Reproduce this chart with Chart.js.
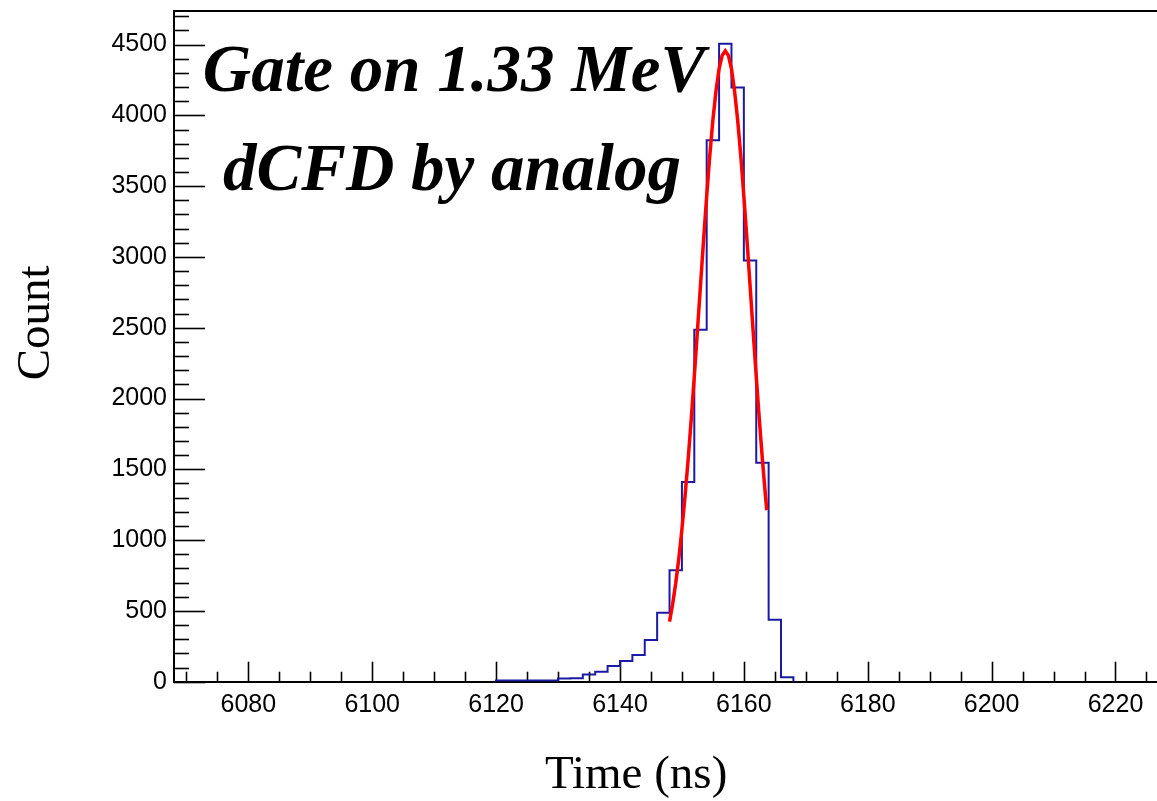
<!DOCTYPE html>
<html><head><meta charset="utf-8">
<script src="https://cdn.jsdelivr.net/npm/chart.js@4.4.1/dist/chart.umd.min.js"></script>
<style>html,body{margin:0;padding:0;background:#fff;} canvas{display:block;}</style>
</head><body>
<canvas id="c" width="1157" height="801"></canvas>
<script>
// Histogram: left edges of 2 ns bins and counts
const binLeftEdges = [6120,6122,6124,6126,6128,6130,6132,6134,6136,6138,6140,6142,6144,6146,6148,6150,6152,6154,6156,6158,6160,6162,6164,6166];
const binLastRightEdge = 6168;
const binCounts = [8,8,8,8,8,22,24,50,71,111,146,188,294,487,788,1410,2485,3825,4506,4196,2974,1547,437,31];

// Gaussian fit curve
const fitX = [6148,6148.5,6149,6149.5,6150,6150.5,6151,6151.5,6152,6152.5,6153,6153.5,6154,6154.5,6155,6155.5,6156,6156.5,6157,6157.5,6158,6158.5,6159,6159.5,6160,6160.5,6161,6161.5,6162,6162.5,6163,6163.5,6163.7];
const fitY = [424,547,695,870,1074,1307,1567,1851,2156,2475,2800,3122,3430,3716,3967,4173,4328,4423,4455,4423,4328,4173,3967,3716,3430,3122,2800,2475,2156,1851,1567,1307,1211];

const xTickLabels = [6080,6100,6120,6140,6160,6180,6200,6220];
const yTickLabels = [0,500,1000,1500,2000,2500,3000,3500,4000,4500];
const xMinorTicks = [6070,6075,6080,6085,6090,6095,6100,6105,6110,6115,6120,6125,6130,6135,6140,6145,6150,6155,6160,6165,6170,6175,6180,6185,6190,6195,6200,6205,6210,6215,6220,6225];
const annotationLines = ['Gate on 1.33 MeV', 'dCFD by analog'];
const xTitle = 'Time (ns)';
const yTitle = 'Count';

const histPoints = [{x: binLeftEdges[0], y: 0}]
  .concat(binLeftEdges.map((e, i) => ({x: e, y: binCounts[i]})))
  .concat([{x: binLastRightEdge, y: 0}]);
const fitPoints = fitX.map((x, i) => ({x: x, y: fitY[i]}));

const framePlugin = {
  id: 'frame',
  beforeDatasetsDraw(chart) {
    const {ctx, chartArea: ca, scales: {x, y}} = chart;
    ctx.save();
    ctx.strokeStyle = '#000';
    ctx.lineWidth = 1.6;
    xMinorTicks.forEach(v => {
      const px = Math.round(x.getPixelForValue(v)) + 0.5;
      const major = xTickLabels.includes(v);
      ctx.beginPath();
      ctx.moveTo(px, ca.bottom);
      ctx.lineTo(px, ca.bottom - (major ? 20 : 10));
      ctx.stroke();
    });
    for (let v = 0; v <= y.max; v += 100) {
      const py = Math.round(y.getPixelForValue(v)) + 0.5;
      const major = yTickLabels.includes(v);
      ctx.beginPath();
      ctx.moveTo(ca.left, py);
      ctx.lineTo(ca.left + (major ? 31 : 15), py);
      ctx.stroke();
    }
    ctx.lineWidth = 2;
    ctx.beginPath();
    ctx.moveTo(ca.left, ca.top);
    ctx.lineTo(ca.right, ca.top);
    ctx.stroke();
    ctx.restore();
  },
  afterDraw(chart) {
    const {ctx} = chart;
    ctx.save();
    ctx.fillStyle = '#000';
    ctx.font = 'bold italic 67px "Liberation Serif"';
    ctx.textAlign = 'center';
    ctx.textBaseline = 'alphabetic';
    ctx.fillText(annotationLines[0], 454, 91);
    ctx.fillText(annotationLines[1], 452, 190);
    ctx.restore();
  }
};

new Chart(document.getElementById('c'), {
  type: 'line',
  data: {
    datasets: [
      {
        label: 'fit', data: fitPoints, order: 0,
        borderColor: '#ff0000', borderWidth: 3.5, pointRadius: 0, tension: 0, fill: false
      },
      {
        label: 'histogram', data: histPoints, order: 1, stepped: 'before',
        borderColor: '#1a1aa3', borderWidth: 2, pointRadius: 0, fill: false
      }
    ]
  },
  options: {
    responsive: false,
    animation: false,
    devicePixelRatio: 1,
    layout: {padding: {top: 11, right: 0, left: 0, bottom: 0}},
    plugins: {legend: {display: false}, tooltip: {enabled: false}},
    scales: {
      x: {
        type: 'linear', min: 6068, max: 6226.7,
        grid: {display: false, drawTicks: false},
        border: {display: true, color: '#000', width: 2},
        ticks: {
          font: {family: 'Liberation Sans', size: 25}, color: '#000', padding: 8,
          includeBounds: false, maxRotation: 0, autoSkip: false,
          callback: v => String(v)
        },
        afterBuildTicks: s => { s.ticks = xTickLabels.map(v => ({value: v})); },
        afterFit: s => { s.height = 119.3; s.paddingLeft = 0; s.paddingRight = 0; },
        title: {
          display: true, text: xTitle + '     ', color: '#000',
          font: {family: 'Liberation Serif', size: 47, lineHeight: 1},
          padding: {top: 0, bottom: 2}
        }
      },
      y: {
        type: 'linear', min: 0, max: 4737,
        grid: {display: false, drawTicks: false},
        border: {display: true, color: '#000', width: 2},
        ticks: {
          font: {family: 'Liberation Sans', size: 25}, color: '#000', padding: 7,
          includeBounds: false, autoSkip: false,
          callback: v => String(v)
        },
        afterBuildTicks: s => { s.ticks = yTickLabels.map(v => ({value: v})); },
        afterFit: s => { s.width = 174; s.paddingTop = 0; s.paddingBottom = 0; },
        title: {
          display: true, text: '    ' + yTitle, color: '#000',
          font: {family: 'Liberation Serif', size: 47, lineHeight: 1},
          padding: {top: 13, bottom: 0}
        }
      }
    }
  },
  plugins: [framePlugin]
});
</script>
</body></html>
